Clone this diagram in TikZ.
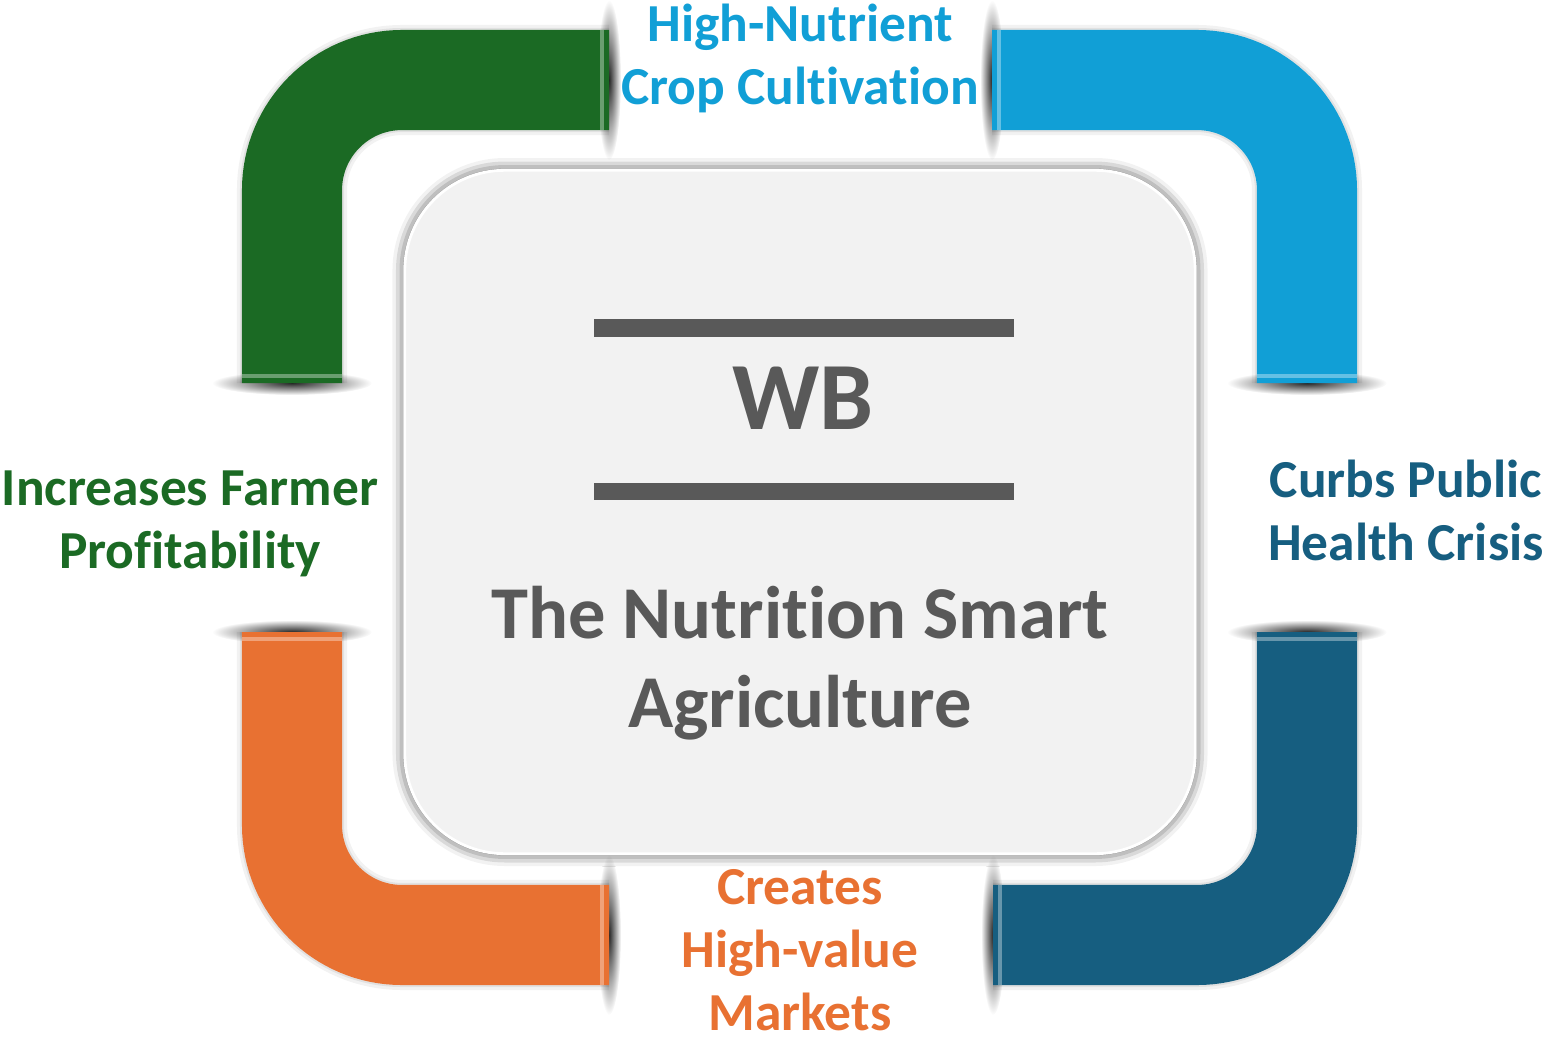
\documentclass[tikz,border=0pt]{standalone}
\usepackage{fontspec}
\setmainfont{Carlito}[Ligatures=NoCommon]
\usetikzlibrary{shadows.blur}

\definecolor{leafgreen}{RGB}{27,106,36}
\definecolor{skyblue}{RGB}{17,159,214}
\definecolor{deepblue}{RGB}{22,94,128}
\definecolor{carrot}{RGB}{232,113,50}
\definecolor{inkgray}{RGB}{89,89,89}
\definecolor{panelgray}{RGB}{242,242,242}

\tikzset{
  band/.style={line width=1cm, rounded corners=1.1cm,
    preaction={draw=black, opacity=0.05, line width=1.1cm},
    preaction={draw=black, opacity=0.07, line width=1.04cm}},
  endshade/.style={inner color=black!85, outer color=white},
  glint/.style={white, opacity=0.35},
  sidelabel/.style={font=\bfseries\fontsize{15.2}{17.9}\selectfont, align=center, anchor=base},
}

\begin{document}
\begin{tikzpicture}[x=0.01cm, y=-0.01cm]
    \useasboundingbox (0,0) rectangle (1544,1039);

    % shadows at the ends of the bands
    \shade[endshade] (292,383) ellipse [x radius=80, y radius=12];
    \shade[endshade] (609,80) ellipse [x radius=12, y radius=80];
    \shade[endshade] (992,80) ellipse [x radius=12, y radius=80];
    \shade[endshade] (1307,383) ellipse [x radius=80, y radius=12];
    \shade[endshade] (1307,632) ellipse [x radius=80, y radius=12];
    \shade[endshade] (993,935) ellipse [x radius=12, y radius=80];
    \shade[endshade] (292,632) ellipse [x radius=80, y radius=12];
    \shade[endshade] (609,935) ellipse [x radius=12, y radius=80];

    % the four bands
    \draw[band, draw=leafgreen] (292,383) -- (292,80) -- (609,80);
    \draw[band, draw=skyblue] (992,80) -- (1307,80) -- (1307,383);
    \draw[band, draw=deepblue] (1307,632) -- (1307,935) -- (993,935);
    \draw[band, draw=carrot] (292,632) -- (292,935) -- (609,935);

    % light stripes near the ends
    \fill[glint] (242,374) rectangle (342,378);
    \fill[glint] (600,30) rectangle (604,130);
    \fill[glint] (997,30) rectangle (1001,130);
    \fill[glint] (1257,374) rectangle (1357,378);
    \fill[glint] (1257,637) rectangle (1357,641);
    \fill[glint] (998,885) rectangle (1002,985);
    \fill[glint] (242,637) rectangle (342,641);
    \fill[glint] (600,885) rectangle (604,985);

    % centre panel
    \node[draw=white, line width=0.8pt, fill=panelgray, rounded corners=1cm,
          minimum width=7.9cm, minimum height=6.83cm,
          blur shadow={shadow xshift=0pt, shadow yshift=0pt, shadow blur radius=3.5pt, shadow opacity=80}]
          (core) at (800,512) {};
    \fill[inkgray] (594,319) rectangle (1014,337);
    \fill[inkgray] (594,483) rectangle (1014,500);
    \node[font=\bfseries\fontsize{27.4}{30}\selectfont, text=inkgray, anchor=base] (wb) at (803,429) {WB};
    \node[font=\bfseries\fontsize{21.2}{25.3}\selectfont, text=inkgray, align=center, anchor=base]
          (title) at (800,727) {The Nutrition Smart\\Agriculture};

    % labels
    \node[sidelabel, text=skyblue] (crop) at (800,104) {High-Nutrient\\Crop Cultivation};
    \node[sidelabel, text=deepblue] (health) at (1406,560) {Curbs Public\\Health Crisis};
    \node[sidelabel, text=carrot] (market) at (800,1030) {Creates\\High-value\\Markets};
    \node[sidelabel, text=leafgreen] (profit) at (190,568) {Increases Farmer\\Profitability};
\end{tikzpicture}
\end{document}
